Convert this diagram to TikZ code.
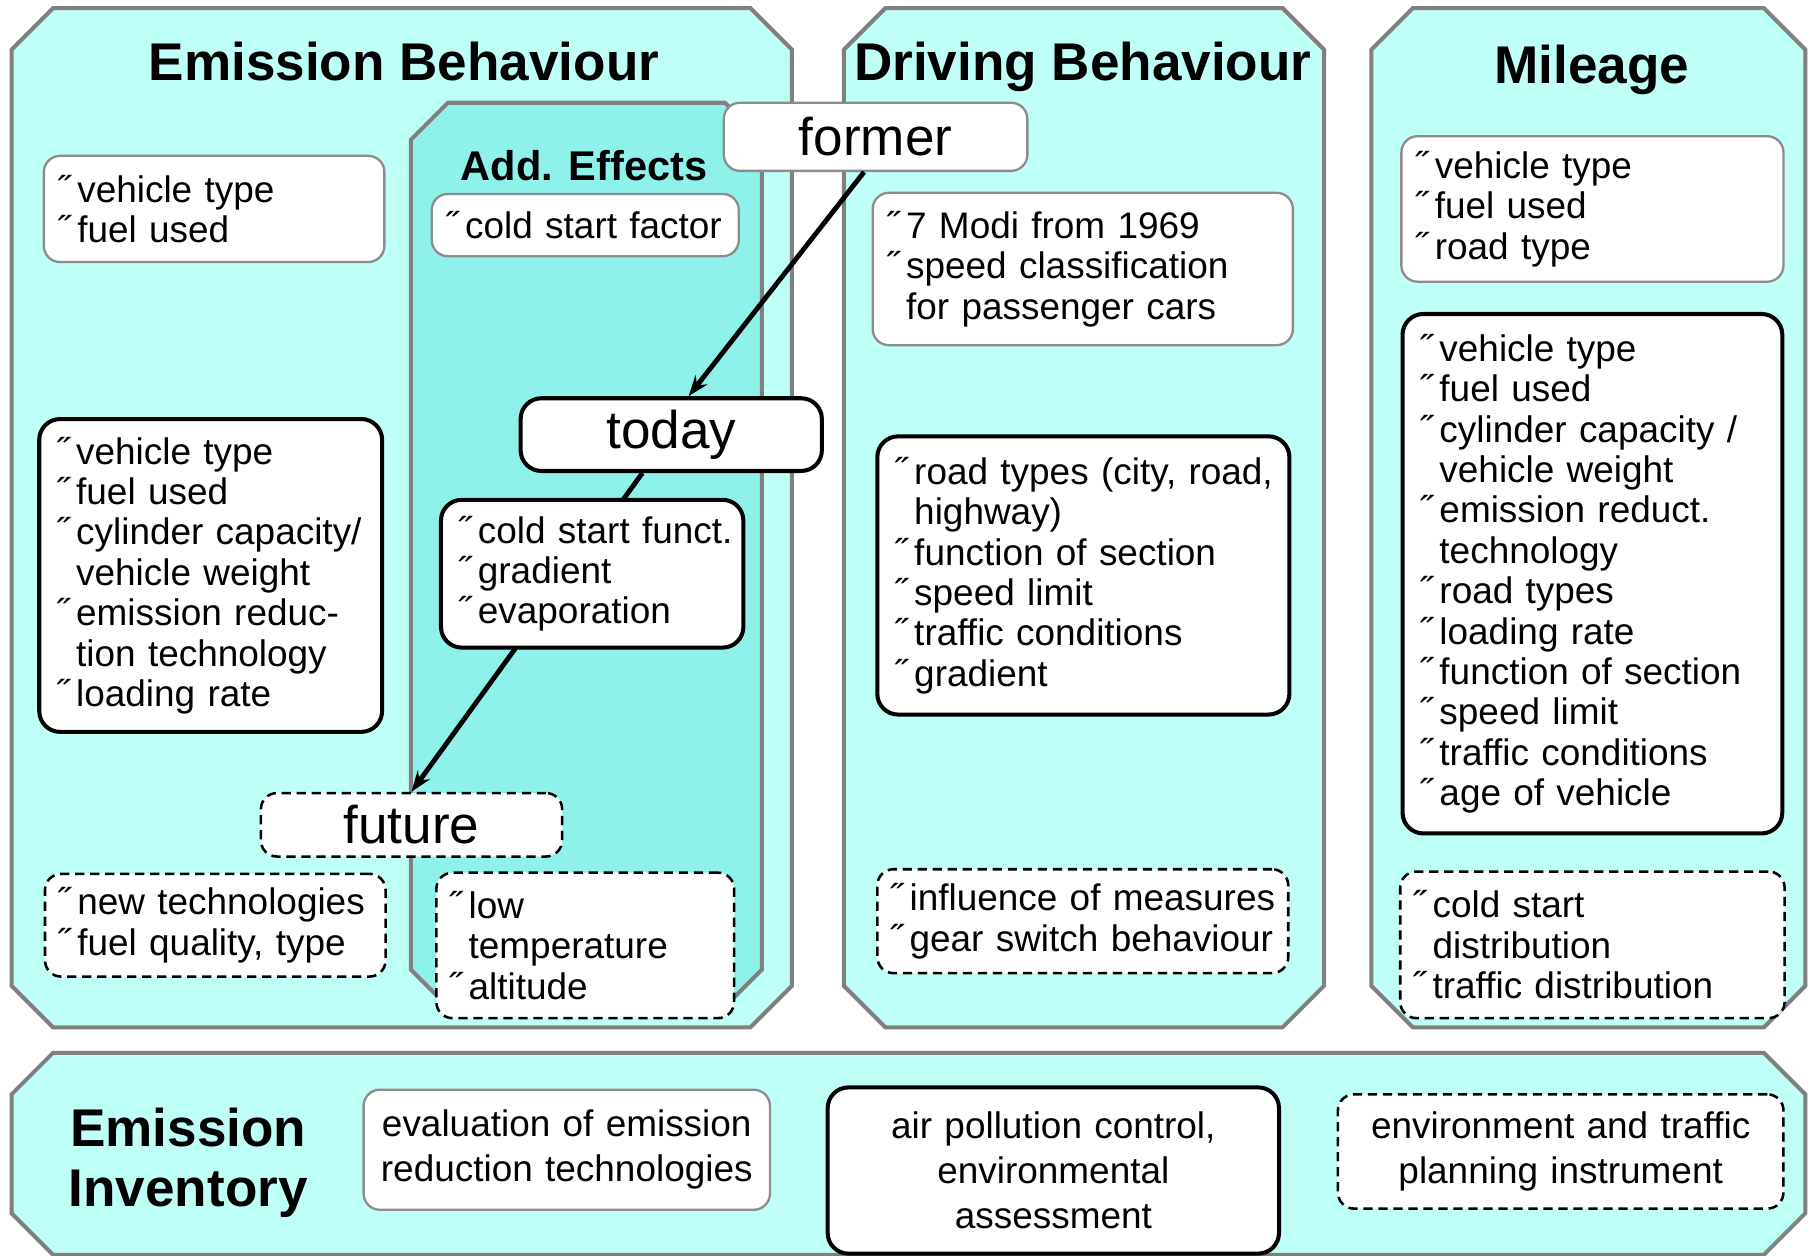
\documentclass[tikz,border=0pt]{standalone}
\usepackage{fontspec}
\setmainfont{Liberation Sans}
\usepackage{tikz}
\usetikzlibrary{arrows.meta, positioning}
\definecolor{panelcyan}{RGB}{190,255,248}
\definecolor{effectcyan}{RGB}{143,242,234}
\definecolor{framegray}{RGB}{128,128,128}
\definecolor{boxgray}{RGB}{140,140,140}

\newcommand{\bitem}[1]{\makebox[17pt][l]{˝}\mbox{#1}}
\newcommand{\bcont}[1]{\hspace*{17pt}\mbox{#1}}
% octagon from (#1,#2) to (#3,#4), corners cut by #5
\newcommand{\panelpath}[5]{(#1+#5,#2) -- (#3-#5,#2) -- (#3,#2+#5) -- (#3,#4-#5) -- (#3-#5,#4) -- (#1+#5,#4) -- (#1,#4-#5) -- (#1,#2+#5) -- cycle}

\begin{document}
\begin{tikzpicture}[
    x=1pt, y=-1pt,
    panel/.style={draw=framegray, line width=3.5pt, fill=#1},
    headline/.style={font=\fontsize{46}{52}\selectfont\bfseries, anchor=base},
    card/.style={rectangle, rounded corners=14pt, fill=white, align=left, inner ysep=0pt, font=\fontsize{32}{35}\selectfont},
    gbox/.style={card, draw=boxgray, line width=2pt, inner xsep=12pt},
    kbox/.style={card, draw=black, line width=3.5pt, rounded corners=18pt, inner xsep=15pt},
    dbox/.style={card, draw=black, line width=2.2pt, dash pattern=on 8pt off 5pt, inner xsep=11pt},
    stage/.style={font=\fontsize{46}{50}\selectfont, align=center},
    usage/.style={font=\fontsize{32}{39}\selectfont, align=center},
    flow/.style={-{Stealth[length=18pt,width=13pt]}, line width=4.2pt}
]
\useasboundingbox (0,0) rectangle (1568,1088);

% Panels
\draw[panel=panelcyan] \panelpath{10}{7}{686}{890}{36};
\draw[panel=panelcyan] \panelpath{731}{7}{1147}{890}{36};
\draw[panel=panelcyan] \panelpath{1188}{7}{1564}{890}{36};
\draw[panel=panelcyan] \panelpath{10}{912}{1564}{1087}{36};
\draw[panel=effectcyan] \panelpath{356}{89}{660}{872}{32};

% Headlines
\node[headline] (emistitle) at (350,70) {Emission Behaviour};
\node[headline] (drivetitle) at (938,70) {Driving Behaviour};
\node[headline] (miletitle) at (1379,72) {Mileage};
\node[headline, font=\fontsize{36}{40}\selectfont\bfseries] (efftitle) at (506,156) {Add. Effects};
\node[headline, anchor=center, align=center] (invtitle) at (163,1007) {Emission\\Inventory};

% Time stages
\node[gbox, stage, text width=239pt, minimum height=59pt] (former) at (758.5,118.5) {former};
\node[kbox, stage, text width=231pt, minimum height=63pt] (today) at (581.5,376.5) {today};
\node[dbox, stage, text width=239pt, minimum height=55pt] (future) at (356.5,714.5) {future};

\draw[flow] ([xshift=-10pt]former.south) -- ([xshift=15pt]today.north);
\draw[flow] ([xshift=-25pt]today.south) -- (future.north);

% Emission behaviour
\node[gbox, text width=271pt, minimum height=92pt] (ebformer) at (185.5,181) {\bitem{vehicle type}\\\bitem{fuel used}};
\node[kbox, text width=267pt, minimum height=271pt] (ebtoday) at (182.5,498.5) {\bitem{vehicle type}\\\bitem{fuel used}\\\bitem{cylinder capacity/}\\\bcont{vehicle weight}\\\bitem{emission reduc-}\\\bcont{tion technology}\\\bitem{loading rate}};
\node[dbox, text width=273pt, minimum height=89pt] (ebfuture) at (186.5,801.5) {\bitem{new technologies}\\\bitem{fuel quality, type}};

% Additional effects
\node[gbox, text width=242pt, minimum height=54pt] (aeformer) at (507,195) {\bitem{cold start factor}};
\node[kbox, text width=232pt, minimum height=128pt] (aetoday) at (513,497) {\bitem{cold start funct.}\\\bitem{gradient}\\\bitem{evaporation}};
\node[dbox, text width=236pt, minimum height=126pt] (aefuture) at (507,819) {\bitem{low}\\\bcont{temperature}\\\bitem{altitude}};

% Driving behaviour
\node[gbox, text width=340pt, minimum height=132pt] (dbformer) at (938,233) {\bitem{7 Modi from 1969}\\\bitem{speed classification}\\\bcont{for passenger cars}};
\node[kbox, text width=327pt, minimum height=241pt] (dbtoday) at (938.5,498.5) {\bitem{road types (city, road,}\\\bcont{highway)}\\\bitem{function of section}\\\bitem{speed limit}\\\bitem{traffic conditions}\\\bitem{gradient}};
\node[dbox, text width=334pt, minimum height=90pt] (dbfuture) at (938,798) {\bitem{influence of measures}\\\bitem{gear switch behaviour}};

% Mileage
\node[gbox, text width=307pt, minimum height=126pt] (miformer) at (1379.5,181) {\bitem{vehicle type}\\\bitem{fuel used}\\\bitem{road type}};
\node[kbox, text width=299pt, minimum height=450pt] (mitoday) at (1379.5,497) {\bitem{vehicle type}\\\bitem{fuel used}\\\bitem{cylinder capacity /}\\\bcont{vehicle weight}\\\bitem{emission reduct.}\\\bcont{technology}\\\bitem{road types}\\\bitem{loading rate}\\\bitem{function of section}\\\bitem{speed limit}\\\bitem{traffic conditions}\\\bitem{age of vehicle}};
\node[dbox, text width=311pt, minimum height=127pt] (mifuture) at (1379.5,818.5) {\bitem{cold start}\\\bcont{distribution}\\\bitem{traffic distribution}};

% Emission inventory
\node[gbox, usage, text width=328pt, minimum height=104pt] (evaluation) at (491,996) {evaluation of emission\\reduction technologies};
\node[kbox, usage, text width=361pt, minimum height=144pt] (airpoll) at (912.5,1014) {air pollution control,\\environmental\\assessment};
\node[dbox, usage, text width=364pt, minimum height=99pt] (planning) at (1352,997.5) {environment and traffic\\planning instrument};

\end{tikzpicture}
\end{document}
